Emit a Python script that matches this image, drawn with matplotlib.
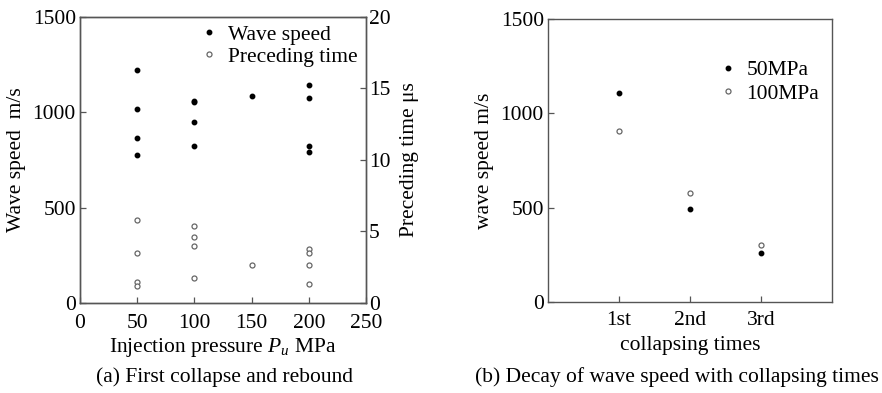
import matplotlib
matplotlib.use("Agg")
import matplotlib.pyplot as plt

plt.rcParams['font.family'] = ['Liberation Serif', 'DejaVu Serif']
plt.rcParams['mathtext.fontset'] = 'custom'
plt.rcParams['mathtext.rm'] = 'Liberation Serif'
plt.rcParams['mathtext.it'] = 'Liberation Serif:italic'
plt.rcParams['font.size'] = 15.5

# (a) first collapse and rebound
ws_pressure = [50, 50, 50, 50, 100, 100, 100, 100, 150, 200, 200, 200, 200]
wave_speed = [1220, 1019, 867, 778, 1059, 1055, 951, 823, 1084, 1143, 1075, 823, 792]
pt_pressure = [50, 50, 50, 50, 100, 100, 100, 100, 150, 200, 200, 200, 200]
preceding_time = [5.8, 3.5, 1.5, 1.2, 5.4, 4.6, 4.0, 1.75, 2.65, 3.75, 3.5, 2.65, 1.3]

# (b) decay with collapsing times
collapse_labels = ['1st', '2nd', '3rd']
collapse_pos = [1, 2, 3]
speed_50 = [1106, 493, 261]
speed_100 = [905, 578, 300]

spine_col = '#555555'
hollow_col = '#666666'

fig = plt.figure(figsize=(8.82, 3.93), dpi=100)
ax1 = fig.add_axes([0.0907, 0.229, 0.3243, 0.728])
ax2 = ax1.twinx()
ax3 = fig.add_axes([0.6213, 0.2316, 0.322, 0.7201])


def style(ax):
    for s in ax.spines.values():
        s.set_color(spine_col)
        s.set_linewidth(1.0)
    ax.tick_params(direction='in', length=4, width=0.9, color=spine_col, pad=3)
    ax.tick_params(axis='x', pad=6.5)


ws, = ax1.plot(ws_pressure, wave_speed, 'o', ms=3.2, color='black', label='Wave speed')
pt, = ax2.plot(pt_pressure, preceding_time, 'o', ms=3.6, mfc='white', mec=hollow_col,
               mew=0.9, label='Preceding time')
ax1.set_xlim(0, 250)
ax1.set_ylim(0, 1500)
ax2.set_ylim(0, 20)
ax1.set_xticks([0, 50, 100, 150, 200, 250])
ax1.set_yticks([0, 500, 1000, 1500])
ax2.set_yticks([0, 5, 10, 15, 20])
style(ax1)
style(ax2)
ax1.tick_params(axis='x', pad=8)
ax2.tick_params(axis='y', pad=2)
ax1.set_xlabel('Injection pressure $P_{u}$ MPa', labelpad=2)
ax1.set_ylabel('Wave speed  m/s', labelpad=5)
ax2.set_ylabel('Preceding time μs', labelpad=7)
ax1.legend(handles=[ws, pt], loc='upper right', bbox_to_anchor=(1.015, 1.018),
           frameon=False, handletextpad=0.25, handlelength=1.2, labelspacing=0.1,
           borderaxespad=0.2)

ax3.plot(collapse_pos, speed_50, 'o', ms=3.2, color='black', label='50MPa')
ax3.plot(collapse_pos, speed_100, 'o', ms=3.6, mfc='white', mec=hollow_col, mew=0.9,
         label='100MPa')
ax3.set_xlim(0, 4)
ax3.set_ylim(0, 1500)
ax3.set_xticks(collapse_pos)
ax3.set_xticklabels(collapse_labels)
ax3.set_yticks([0, 500, 1000, 1500])
style(ax3)
ax3.set_xlabel('collapsing times', labelpad=4)
ax3.set_ylabel('wave speed m/s', labelpad=5)
ax3.legend(loc='upper right', bbox_to_anchor=(1.0, 0.9), frameon=False,
           handletextpad=0.25, handlelength=1.2, labelspacing=0.15, borderaxespad=0.2)

fig.text(0.254, 0.041, '(a) First collapse and rebound', ha='center', va='center')
fig.text(0.7676, 0.041, '(b) Decay of wave speed with collapsing times', ha='center', va='center')

fig.savefig('out.png', dpi=100)
